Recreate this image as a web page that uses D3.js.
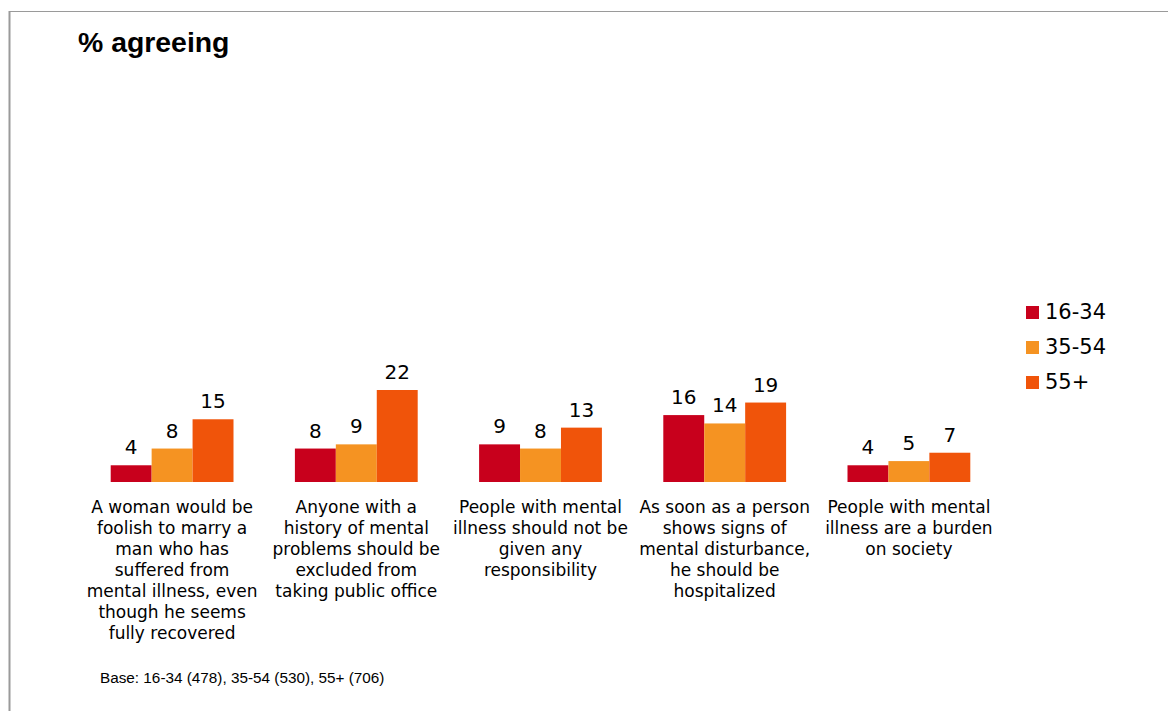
<!DOCTYPE html>
<html>
<head>
<meta charset="utf-8">
<script src="https://cdn.jsdelivr.net/npm/d3@7"></script>
<style>
  html, body { margin: 0; padding: 0; background: #fff; }
  svg { display: block; }
</style>
</head>
<body>
<svg id="chart" width="1168" height="711"></svg>
<script>
// Statements (each split into the lines shown under its group)
const categories = [
  ["A woman would be", "foolish to marry a", "man who has", "suffered from", "mental illness, even", "though he seems", "fully recovered"],
  ["Anyone with a", "history of mental", "problems should be", "excluded from", "taking public office"],
  ["People with mental", "illness should not be", "given any", "responsibility"],
  ["As soon as a person", "shows signs of", "mental disturbance,", "he should be", "hospitalized"],
  ["People with mental", "illness are a burden", "on society"]
];
const ageGroups = ["16-34", "35-54", "55+"];
const values1634 = [4, 8, 9, 16, 4];
const values3554 = [8, 9, 8, 14, 5];
const values55plus = [15, 22, 13, 19, 7];
const colours = ["#c8001c", "#f59322", "#f0540a"];
const title = "% agreeing";
const baseNote = "Base: 16-34 (478), 35-54 (530), 55+ (706)";

const series = [values1634, values3554, values55plus];
const svg = d3.select("#chart");

// frame lines
svg.append("line").attr("x1", 9.5).attr("x2", 9.5).attr("y1", 11).attr("y2", 711)
  .attr("stroke", "#9a9a9a").attr("stroke-width", 2);
svg.append("line").attr("x1", 9).attr("x2", 1168).attr("y1", 11.5).attr("y2", 11.5)
  .attr("stroke", "#9a9a9a").attr("stroke-width", 1);

svg.append("text").attr("x", 78).attr("y", 52)
  .attr("font-family", "Liberation Sans, Arial, sans-serif")
  .attr("font-weight", "bold").attr("font-size", 28.4).attr("fill", "#000")
  .text(title);

const idx = d3.range(categories.length);
const x = d3.scaleBand().domain(idx).range([80, 1001]).padding(0);
const xInner = d3.scaleBand().domain(ageGroups).range([0, x.bandwidth()])
  .paddingInner(0).paddingOuter(0.75);
const baseY = 482;
const y = d3.scaleLinear().domain([0, 22]).range([baseY, 390]);

const groups = svg.append("g").selectAll("g").data(idx).join("g")
  .attr("transform", i => `translate(${x(i)},0)`);

ageGroups.forEach((g, s) => {
  groups.append("rect")
    .attr("x", xInner(g))
    .attr("y", i => y(series[s][i]))
    .attr("width", xInner.bandwidth())
    .attr("height", i => baseY - y(series[s][i]))
    .attr("fill", colours[s]);
  groups.append("text")
    .attr("x", xInner(g) + xInner.bandwidth() / 2)
    .attr("y", i => y(series[s][i]) - 11)
    .attr("text-anchor", "middle")
    .attr("font-family", "DejaVu Sans, Verdana, sans-serif")
    .attr("font-size", 20).attr("fill", "#000")
    .text(i => series[s][i]);
});

// category labels
groups.append("text")
  .attr("text-anchor", "middle")
  .attr("font-family", "DejaVu Sans, Verdana, sans-serif")
  .attr("font-size", 17).attr("fill", "#000")
  .each(function (i) {
    d3.select(this).selectAll("tspan").data(categories[i]).join("tspan")
      .attr("x", x.bandwidth() / 2)
      .attr("y", (d, k) => 513 + k * 21)
      .text(d => d);
  });

// legend
const legend = svg.append("g").selectAll("g").data(ageGroups).join("g")
  .attr("transform", (d, k) => `translate(1026,${306 + k * 35})`);
legend.append("rect").attr("width", 13).attr("height", 13)
  .attr("fill", (d, k) => colours[k]);
legend.append("text").attr("x", 19).attr("y", 13)
  .attr("font-family", "DejaVu Sans, Verdana, sans-serif")
  .attr("font-size", 21).attr("fill", "#000")
  .text(d => d);

svg.append("text").attr("x", 100).attr("y", 683)
  .attr("font-family", "Liberation Sans, Arial, sans-serif")
  .attr("font-size", 15.3).attr("fill", "#000")
  .text(baseNote);
</script>
</body>
</html>
